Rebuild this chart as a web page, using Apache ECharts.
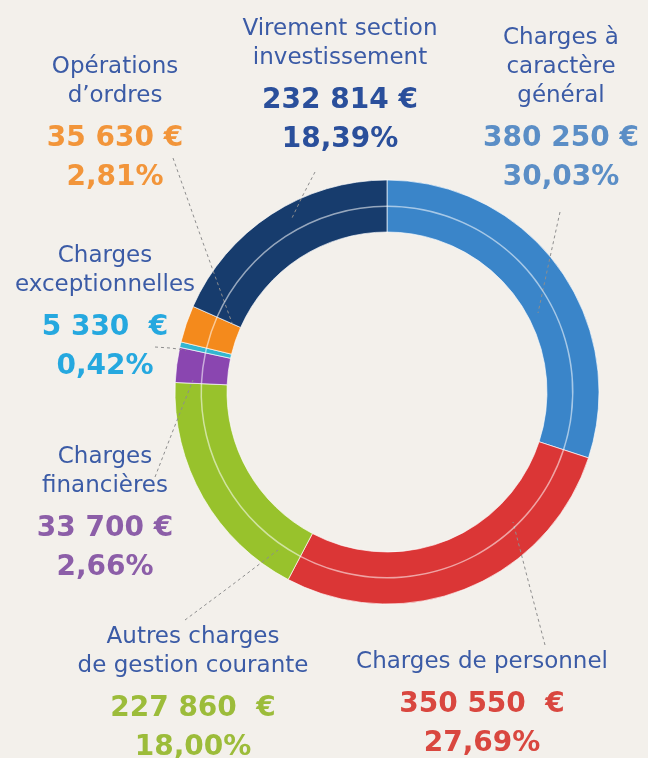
<!DOCTYPE html>
<html>
<head>
<meta charset="utf-8">
<script src="https://cdn.jsdelivr.net/npm/echarts@6/dist/echarts.min.js"></script>
<style>
html,body{margin:0;padding:0;background:#f3f0eb;}
#chart{width:648px;height:758px;}
</style>
</head>
<body>
<div id="chart"></div>
<script>
// ---- data ----
var categories = [
  "Charges à\ncaractère\ngénéral",
  "Charges de personnel",
  "Autres charges\nde gestion courante",
  "Charges\nfinancières",
  "Charges\nexceptionnelles",
  "Opérations\nd’ordres",
  "Virement section\ninvestissement"
];
var amounts = [380250, 350550, 227860, 33700, 5330, 35630, 232814];
var euroGaps = [" ", "  ", "  ", " ", "  ", " ", " "];

// ---- styles / layout ----
var sliceColors = ["#3a85c9", "#db3636", "#98c22c", "#8a46b0", "#34b6d0", "#f48a1c", "#173c6d"];
var valueColors = ["#5b8ec6", "#d9473f", "#9cbc3a", "#8c5ea8", "#25a8df", "#f2953a", "#2a4f9b"];
var labelAnchors = [[561, 24], [482, 648], [193, 623], [105, 443], [105, 242], [115, 53], [340, 15]];
var guideLines = [
  [[560, 212], [549, 262], [538, 313]],
  [[545, 645], [529, 584], [513, 522]],
  [[185, 620], [232, 585], [278, 550]],
  [[155, 477], [174, 428], [193, 380]],
  [[155, 347], [170, 348], [186, 350]],
  [[173, 158], [202, 240], [232, 323]],
  [[315, 172], [303, 195], [292, 218]]
];

var total = amounts.reduce(function (a, b) { return a + b; }, 0);
function fmtNum(v) {
  return String(v).replace(/\B(?=(\d{3})+(?!\d))/g, " ");
}
function fmtPct(v) {
  return (v / total * 100).toFixed(2).replace(".", ",") + "%";
}

var rich = { n: { fontFamily: "DejaVu Sans", fontSize: 23, color: "#3b5ba6", lineHeight: 29, align: "center" },
             s: { fontSize: 4, lineHeight: 8 } };
valueColors.forEach(function (c, i) {
  rich["v" + i] = { fontFamily: "DejaVu Sans", fontWeight: "bold", fontSize: 28, color: c, lineHeight: 39, align: "center" };
});

var data = amounts.map(function (v, i) {
  return { name: categories[i], value: v, itemStyle: { color: sliceColors[i] } };
});

var chart = echarts.init(document.getElementById("chart"), null, { renderer: "canvas" });
chart.setOption({
  backgroundColor: "#f3f0eb",
  animation: false,
  series: [
    {
      type: "pie",
      z: 2,
      center: [387, 392],
      radius: [160, 212],
      startAngle: 90,
      clockwise: true,
      silent: true,
      label: { show: false },
      labelLine: { show: false },
      itemStyle: { borderColor: "rgba(255,255,255,0.65)", borderWidth: 1 },
      data: data
    },
    {
      type: "pie",
      z: 3,
      center: [387, 392],
      radius: [185, 186.5],
      startAngle: 90,
      clockwise: true,
      silent: true,
      avoidLabelOverlap: false,
      itemStyle: { color: "rgba(255,255,255,0.55)", borderWidth: 0 },
      label: {
        show: true,
        position: "outside",
        formatter: function (p) {
          var i = p.dataIndex;
          var lines = categories[i].split("\n").map(function (t) { return "{n|" + t + "}"; });
          lines.push("{s| }");
          lines.push("{v" + i + "|" + fmtNum(amounts[i]) + euroGaps[i] + "€}");
          lines.push("{v" + i + "|" + fmtPct(amounts[i]) + "}");
          return lines.join("\n");
        },
        rich: rich
      },
      labelLine: {
        show: true,
        length: 10,
        length2: 10,
        lineStyle: { color: "#8e8e8e", width: 1, type: [3, 3] }
      },
      labelLayout: function (p) {
        var i = p.dataIndex;
        return {
          x: labelAnchors[i][0],
          y: labelAnchors[i][1],
          align: "center",
          verticalAlign: "top",
          labelLinePoints: guideLines[i]
        };
      },
      data: amounts.map(function (v, i) { return { name: categories[i], value: v }; })
    }
  ]
});
</script>
</body>
</html>
